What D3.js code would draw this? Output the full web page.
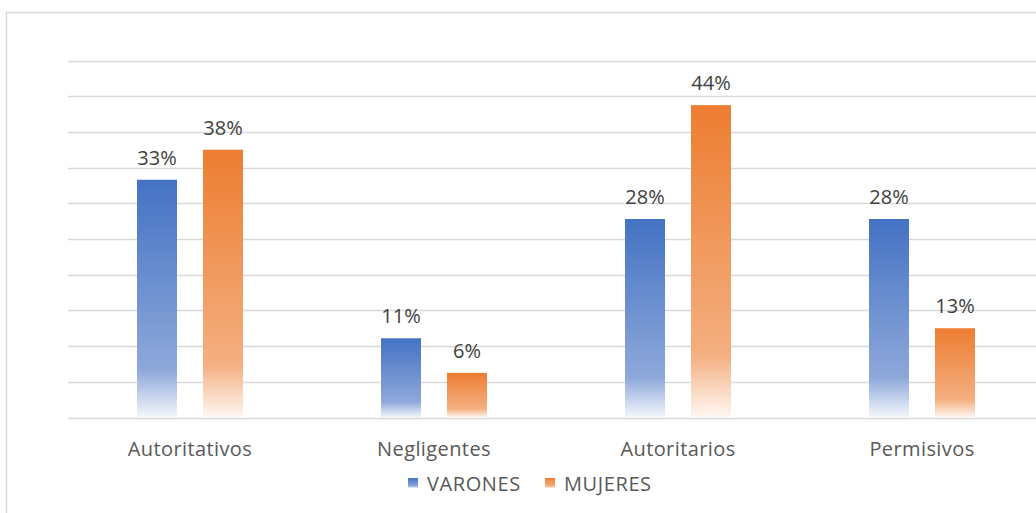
<!DOCTYPE html>
<html>
<head>
<meta charset="utf-8">
<script src="https://cdn.jsdelivr.net/npm/d3@7"></script>
<style>
  body { margin: 0; background: #fff; }
  svg text { font-family: "Open Sans", "Noto Sans", sans-serif; }
</style>
</head>
<body>
<div id="chart"></div>
<script>
var categories = ['Autoritativos', 'Negligentes', 'Autoritarios', 'Permisivos']
var seriesNames = ['VARONES', 'MUJERES']
// bar heights (labels are rounded)
var varones = [0.333, 0.111, 0.278, 0.278]
var mujeres = [0.375, 0.0625, 0.4375, 0.125]
var yTicks = [0, 0.05, 0.1, 0.15, 0.2, 0.25, 0.3, 0.35, 0.4, 0.45, 0.5]

var width = 1036, height = 513
var colors = { VARONES: ['#4472C4', '#8EA8DA', '#F4F7FC'], MUJERES: ['#ED7D31', '#F4AF80', '#FEF7F2'] }

var svg = d3.select('#chart').append('svg')
	.attr('width', width).attr('height', height)

// chart border
svg.append('rect')
	.attr('x', 6.5).attr('y', 12.5)
	.attr('width', 1100).attr('height', 600)
	.attr('fill', 'none').attr('stroke', '#d9d9d9').attr('stroke-width', 1.5)

var defs = svg.append('defs')
seriesNames.forEach(function(name) {
	var g = defs.append('linearGradient')
		.attr('id', 'grad-' + name)
		.attr('x1', 0).attr('y1', 0).attr('x2', 0).attr('y2', 1)
	var c = colors[name]
	g.append('stop').attr('offset', '0%').attr('stop-color', c[0])
	g.append('stop').attr('offset', '80%').attr('stop-color', c[1])
	g.append('stop').attr('offset', '100%').attr('stop-color', c[2])
})

var x = d3.scaleBand()
	.domain(categories)
	.range([68, 68 + 244 * 4])

var xSub = d3.scaleOrdinal()
	.domain(seriesNames)
	.range([-53, 13])

var y = d3.scaleLinear()
	.domain([0, 0.5])
	.range([417.5, 60.5])

// gridlines
svg.append('g')
	.selectAll('line').data(yTicks)
	.enter().append('line')
	.attr('x1', 68).attr('x2', width + 10)
	.attr('y1', d => Math.round(y(d)) + 0.5)
	.attr('y2', d => Math.round(y(d)) + 0.5)
	.attr('stroke', '#d9d9d9')
	.attr('stroke-width', 1.5)

var data = []
categories.forEach(function(c, i) {
	data.push({ cat: c, series: 'VARONES', value: varones[i] })
	data.push({ cat: c, series: 'MUJERES', value: mujeres[i] })
})

var barWidth = 40

svg.append('g')
	.selectAll('rect').data(data)
	.enter().append('rect')
	.attr('x', d => x(d.cat) + x.bandwidth() / 2 + xSub(d.series))
	.attr('y', d => y(d.value))
	.attr('width', barWidth)
	.attr('height', d => y(0) - y(d.value))
	.attr('fill', d => 'url(#grad-' + d.series + ')')

// data labels
svg.append('g')
	.selectAll('text').data(data)
	.enter().append('text')
	.attr('x', d => x(d.cat) + x.bandwidth() / 2 + xSub(d.series) + barWidth / 2)
	.attr('y', d => y(d.value) - 15)
	.attr('text-anchor', 'middle')
	.attr('font-size', '20px')
	.attr('fill', '#404040')
	.text(d => Math.round(d.value * 100) + '%')

// category axis labels
var xAxis = d3.axisBottom(x).tickSize(0).tickPadding(0)
var axisG = svg.append('g')
	.attr('transform', 'translate(0, 417)')
	.call(xAxis)
axisG.select('.domain').remove()
axisG.selectAll('text')
	.attr('y', 39)
	.attr('dy', 0)
	.attr('font-size', '20px')
	.attr('letter-spacing', '0.4px')
	.attr('fill', '#595959')

// legend
var legendX = [408, 545]
var legend = svg.append('g')
	.selectAll('g').data(seriesNames)
	.enter().append('g')
	.attr('transform', (d, i) => `translate(${legendX[i]}, 478)`)
legend.append('rect')
	.attr('width', 10).attr('height', 10)
	.attr('fill', d => 'url(#grad-' + d + ')')
legend.append('text')
	.attr('x', 19).attr('y', 13)
	.attr('font-size', '20px')
	.attr('letter-spacing', '0.6px')
	.attr('fill', '#595959')
	.text(d => d)
</script>
</body>
</html>
